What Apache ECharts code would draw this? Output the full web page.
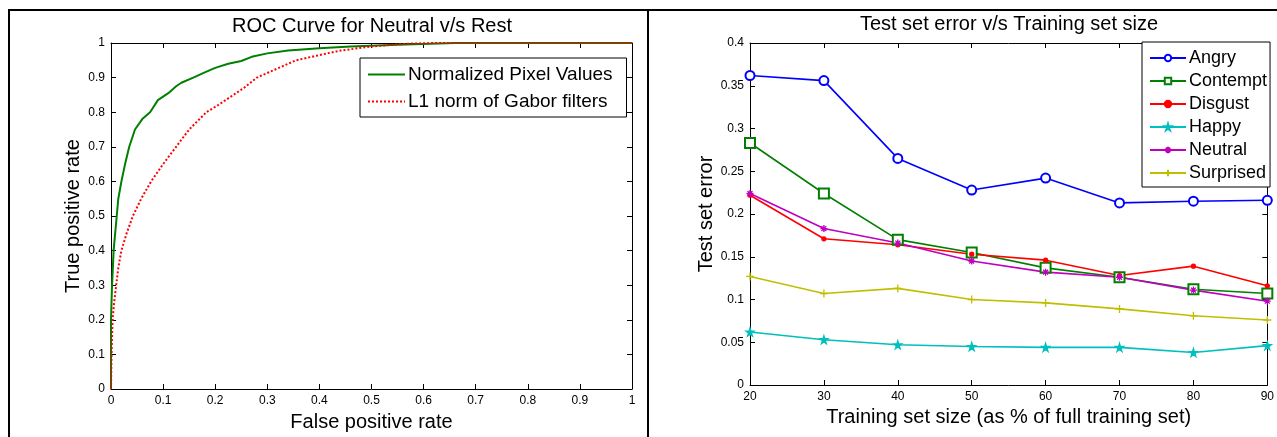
<!DOCTYPE html>
<html>
<head>
<meta charset="utf-8">
<script src="https://cdn.jsdelivr.net/npm/echarts@6/dist/echarts.min.js"></script>
<style>
  html, body { margin: 0; padding: 0; background: #fff; }
  #chart { width: 1277px; height: 437px; }
</style>
</head>
<body>
<div id="chart"></div>
<script>
// ROC curve (left panel)
const pixelFpr = [0, 0, 0.002, 0.005, 0.008, 0.011, 0.014, 0.02, 0.027, 0.035, 0.046, 0.06, 0.075, 0.09, 0.11, 0.125, 0.135, 0.158, 0.18, 0.2, 0.225, 0.25, 0.27, 0.3, 0.34, 0.4, 0.46, 0.55, 0.66, 1];
const pixelTpr = [0, 0.2, 0.3, 0.4, 0.45, 0.5, 0.55, 0.6, 0.65, 0.7, 0.75, 0.78, 0.8, 0.835, 0.855, 0.875, 0.885, 0.9, 0.915, 0.928, 0.94, 0.948, 0.96, 0.97, 0.978, 0.985, 0.99, 0.995, 1, 1];
const gaborFpr = [0, 0.001, 0.003, 0.006, 0.01, 0.014, 0.02, 0.03, 0.042, 0.058, 0.077, 0.1, 0.125, 0.15, 0.183, 0.205, 0.235, 0.255, 0.28, 0.31, 0.355, 0.4, 0.44, 0.5, 0.57, 0.62, 1];
const gaborTpr = [0, 0.1, 0.2, 0.25, 0.3, 0.35, 0.4, 0.45, 0.5, 0.55, 0.6, 0.65, 0.7, 0.75, 0.8, 0.82, 0.85, 0.87, 0.9, 0.92, 0.95, 0.965, 0.978, 0.99, 0.998, 1, 1];

// test set error (right panel)
const trainSizes = [20, 30, 40, 50, 60, 70, 80, 90];
const angry     = [0.362, 0.356, 0.265, 0.228, 0.242, 0.213, 0.215, 0.216];
const contempt  = [0.283, 0.224, 0.170, 0.155, 0.137, 0.126, 0.112, 0.107];
const disgust   = [0.222, 0.171, 0.164, 0.153, 0.146, 0.128, 0.139, 0.116];
const happy     = [0.062, 0.053, 0.047, 0.045, 0.044, 0.044, 0.038, 0.046];
const neutral   = [0.224, 0.183, 0.166, 0.145, 0.132, 0.126, 0.111, 0.098];
const surprised = [0.127, 0.107, 0.113, 0.100, 0.096, 0.089, 0.081, 0.076];

const FONT = '"Liberation Sans", Arial, sans-serif';

function pairs(xs, ys) {
  return xs.map((x, i) => [x, ys[i]]);
}

function valueAxis(grid, pos, min, max, interval, showLabel, name, gap) {
  return {
    type: 'value', gridIndex: grid, position: pos,
    min: min, max: max, interval: interval,
    name: name || '', nameLocation: 'middle', nameGap: gap || 0,
    nameTextStyle: { color: '#000', fontSize: 20, fontFamily: FONT },
    axisLine: { show: true, onZero: false, lineStyle: { color: '#000', width: 1 } },
    axisTick: { show: true, inside: true, length: 5, lineStyle: { color: '#000' } },
    axisLabel: { show: showLabel, color: '#000', fontSize: 12, fontFamily: FONT, margin: 6 },
    splitLine: { show: false }
  };
}

function errSeries(name, values, color, symbol, size) {
  return {
    name: name, type: 'line', xAxisIndex: 2, yAxisIndex: 2,
    data: pairs(trainSizes, values),
    symbol: symbol, symbolSize: size,
    lineStyle: { color: color, width: 1.6 },
    itemStyle: { color: color, borderColor: color, borderWidth: 1.3 }
  };
}

const plusPath = 'path://M5,0L5,10M0,5L10,5';
const starPath = 'path://M50,0L61,35L98,35L68,57L79,91L50,70L21,91L32,57L2,35L39,35Z';
const asteriskPath = 'path://M5,0L5,10M0,5L10,5M1.5,1.5L8.5,8.5M8.5,1.5L1.5,8.5';

const chart = echarts.init(document.getElementById('chart'));
chart.setOption({
  animation: false,
  textStyle: { fontFamily: FONT },
  grid: [
    { left: 111, top: 43, width: 521, height: 346 },
    { left: 750, top: 43, width: 520, height: 342 }
  ],
  xAxis: [
    valueAxis(0, 'bottom', 0, 1, 0.1, true, 'False positive rate', 23),
    valueAxis(0, 'top', 0, 1, 0.1, false),
    valueAxis(1, 'bottom', 20, 90, 10, true, 'Training set size (as % of full training set)', 22),
    valueAxis(1, 'top', 20, 90, 10, false)
  ],
  yAxis: [
    valueAxis(0, 'left', 0, 1, 0.1, true, 'True positive rate', 28),
    valueAxis(0, 'right', 0, 1, 0.1, false),
    valueAxis(1, 'left', 0, 0.4, 0.05, true, 'Test set error', 34),
    valueAxis(1, 'right', 0, 0.4, 0.05, false)
  ],
  legend: [
    {
      data: [
        { name: 'Normalized Pixel Values', itemStyle: { opacity: 0 } },
        { name: 'L1 norm of Gabor filters', itemStyle: { opacity: 0 } }
      ],
      orient: 'vertical', left: 360, top: 58,
      itemWidth: 37, itemHeight: 14, itemGap: 8,
      padding: [7, 14, 6, 7],
      backgroundColor: '#fff', borderColor: '#000', borderWidth: 1, borderRadius: 0,
      textStyle: { color: '#000', fontSize: 19, fontFamily: FONT, padding: [0, 0, 0, -2] },
      z: 10
    },
    {
      data: ['Angry', 'Contempt', 'Disgust', 'Happy', 'Neutral', 'Surprised'],
      orient: 'vertical', left: 1142, top: 42,
      itemWidth: 36, itemHeight: 8, itemGap: 5,
      padding: [7, 3, 5, 7],
      backgroundColor: '#fff', borderColor: '#000', borderWidth: 1, borderRadius: 0,
      textStyle: { color: '#000', fontSize: 18, fontFamily: FONT, padding: [0, 0, 0, -2] },
      z: 10
    }
  ],
  graphic: [
    { type: 'line', shape: { x1: 8, y1: 10, x2: 1277, y2: 10 }, style: { stroke: '#000', lineWidth: 2 } },
    { type: 'line', shape: { x1: 9, y1: 10, x2: 9, y2: 437 }, style: { stroke: '#000', lineWidth: 2 } },
    { type: 'line', shape: { x1: 648, y1: 10, x2: 648, y2: 437 }, style: { stroke: '#000', lineWidth: 2 } },
    { type: 'text', x: 372, y: 26, style: { text: 'ROC Curve for Neutral v/s Rest', font: '20px ' + FONT, fill: '#000', align: 'center', verticalAlign: 'middle' } },
    { type: 'text', x: 1009, y: 24, style: { text: 'Test set error v/s Training set size', font: '20px ' + FONT, fill: '#000', align: 'center', verticalAlign: 'middle' } }
  ],
  series: [
    {
      name: 'Normalized Pixel Values', type: 'line', xAxisIndex: 0, yAxisIndex: 0,
      data: pairs(pixelFpr, pixelTpr), showSymbol: false, symbol: 'none',
      lineStyle: { color: '#008000', width: 2 }, itemStyle: { color: '#008000' }
    },
    {
      name: 'L1 norm of Gabor filters', type: 'line', xAxisIndex: 0, yAxisIndex: 0,
      data: pairs(gaborFpr, gaborTpr), showSymbol: false, symbol: 'none',
      lineStyle: { color: '#ff0000', width: 2, type: 'dotted' }, itemStyle: { color: '#ff0000' }
    },
    errSeries('Angry', angry, '#0000ff', 'emptyCircle', 9),
    errSeries('Contempt', contempt, '#008000', 'emptyRect', 10),
    errSeries('Disgust', disgust, '#ff0000', 'circle', 4),
    errSeries('Happy', happy, '#00bfbf', starPath, 8),
    errSeries('Neutral', neutral, '#bf00bf', asteriskPath, 7),
    errSeries('Surprised', surprised, '#bfbf00', plusPath, 8)
  ]
});
</script>
</body>
</html>
